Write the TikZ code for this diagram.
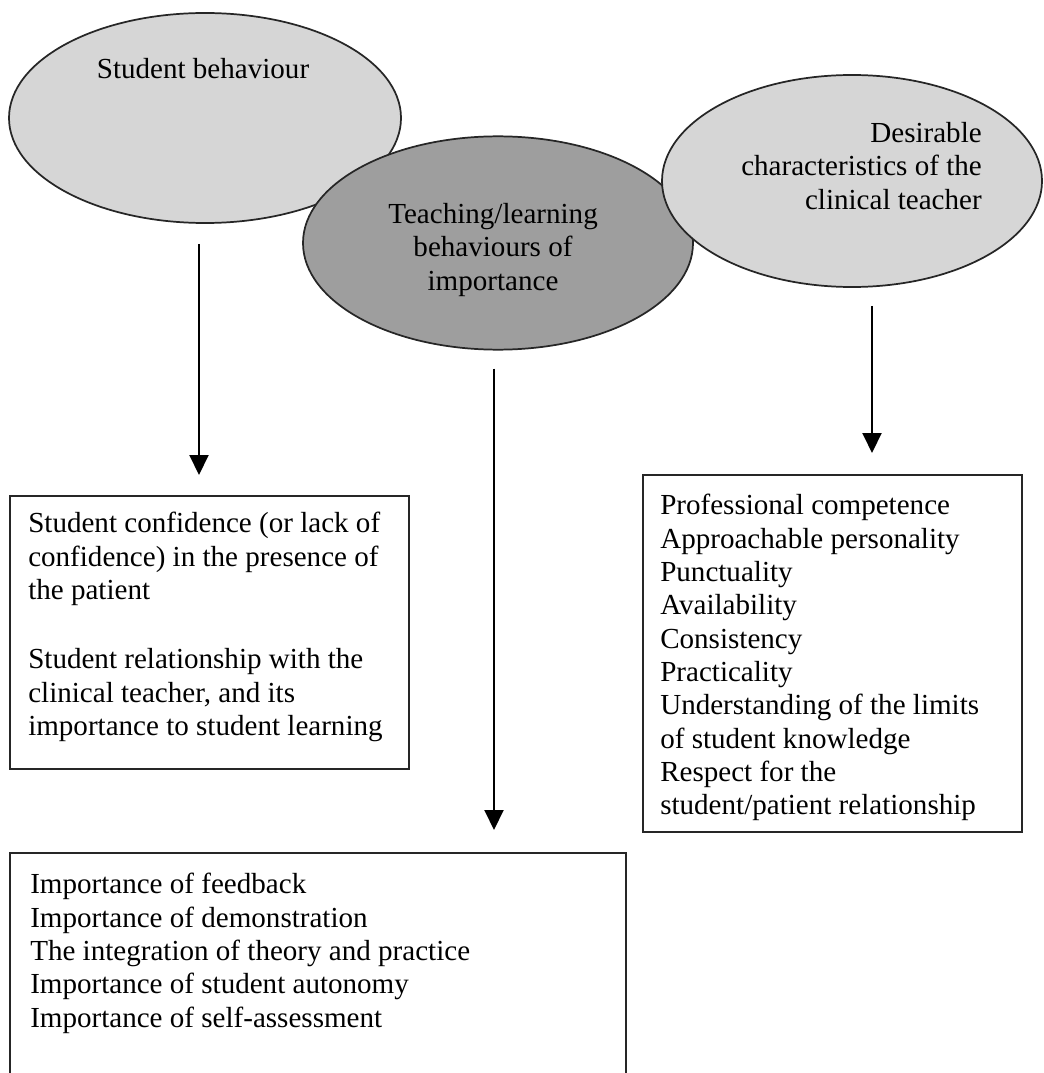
\documentclass[tikz,border=0pt]{standalone}
\usepackage{fontspec}
\setmainfont{Liberation Serif}
\usetikzlibrary{shapes.geometric,arrows.meta,calc}
\definecolor{lightgr}{gray}{0.84}
\definecolor{darkgr}{gray}{0.62}
\definecolor{edgegr}{gray}{0.15}
\begin{document}
\begin{tikzpicture}[x=0.75pt,y=-0.75pt,
  bubble/.style={ellipse,draw=edgegr,line width=1.3pt,inner sep=0pt},
  lightbubble/.style={bubble,fill=lightgr},
  darkbubble/.style={bubble,fill=darkgr},
  txt/.style={inner sep=0pt,font=\fontsize{21.8}{25}\selectfont},
  listbox/.style={draw=edgegr,line width=1.6pt,fill=white,anchor=north west,inner sep=0pt},
  arr/.style={line width=1.5pt,-{Triangle[width=14.25pt,length=15pt]}}
]
\useasboundingbox (0,0) rectangle (1044,1073);
\clip (0,0) rectangle (1044,1073);
\fill[white] (0,0) rectangle (1044,1073);

% ellipses
\node[lightbubble,minimum width=294pt,minimum height=157.5pt] (e1) at (205,118) {};
\node[darkbubble,minimum width=292.5pt,minimum height=160pt] (e2) at (498,243) {};
\node[lightbubble,minimum width=285pt,minimum height=159pt] (e3) at (852,181) {};

\node[txt,anchor=base] (t1) at (203,79) {Student behaviour};
\node[txt,anchor=north,align=center] (t2) at (493,203) {Teaching/learning\\behaviours of\\importance};
\node[txt,anchor=north east,align=right] (t3) at (982,122) {Desirable\\characteristics of the\\clinical teacher};

% boxes
\node[listbox,minimum width=299.25pt,minimum height=204.75pt] (b1) at (9,495) {};
\node[listbox,minimum width=284.25pt,minimum height=267.75pt] (b2) at (642,474) {};
\node[listbox,minimum width=462pt,minimum height=180pt] (b3) at (9,852) {};

\node[txt,anchor=north west,align=left] (l1) at (28,512) {Student confidence (or lack of\\confidence) in the presence of\\the patient\\[27pt]Student relationship with the\\clinical teacher, and its\\importance to student learning};
\node[txt,anchor=north west,align=left] (l2) at (660,494) {Professional competence\\Approachable personality\\Punctuality\\Availability\\Consistency\\Practicality\\Understanding of the limits\\of student knowledge\\Respect for the\\student/patient relationship};
\node[txt,anchor=north west,align=left] (l3) at (30,873) {Importance of feedback\\Importance of demonstration\\The integration of theory and practice\\Importance of student autonomy\\Importance of self-assessment};

% arrows
\draw[arr] ($(e1.south)+(-6,20)$) coordinate (s1) -- ($(s1 |- b1.north)+(0,-20)$);
\draw[arr] ($(e2.south)+(-4,18)$) coordinate (s2) -- ($(s2 |- b3.north)+(0,-22)$);
\draw[arr] ($(e3.south)+(20,18)$) coordinate (s3) -- ($(s3 |- b2.north)+(0,-21)$);
\end{tikzpicture}
\end{document}
